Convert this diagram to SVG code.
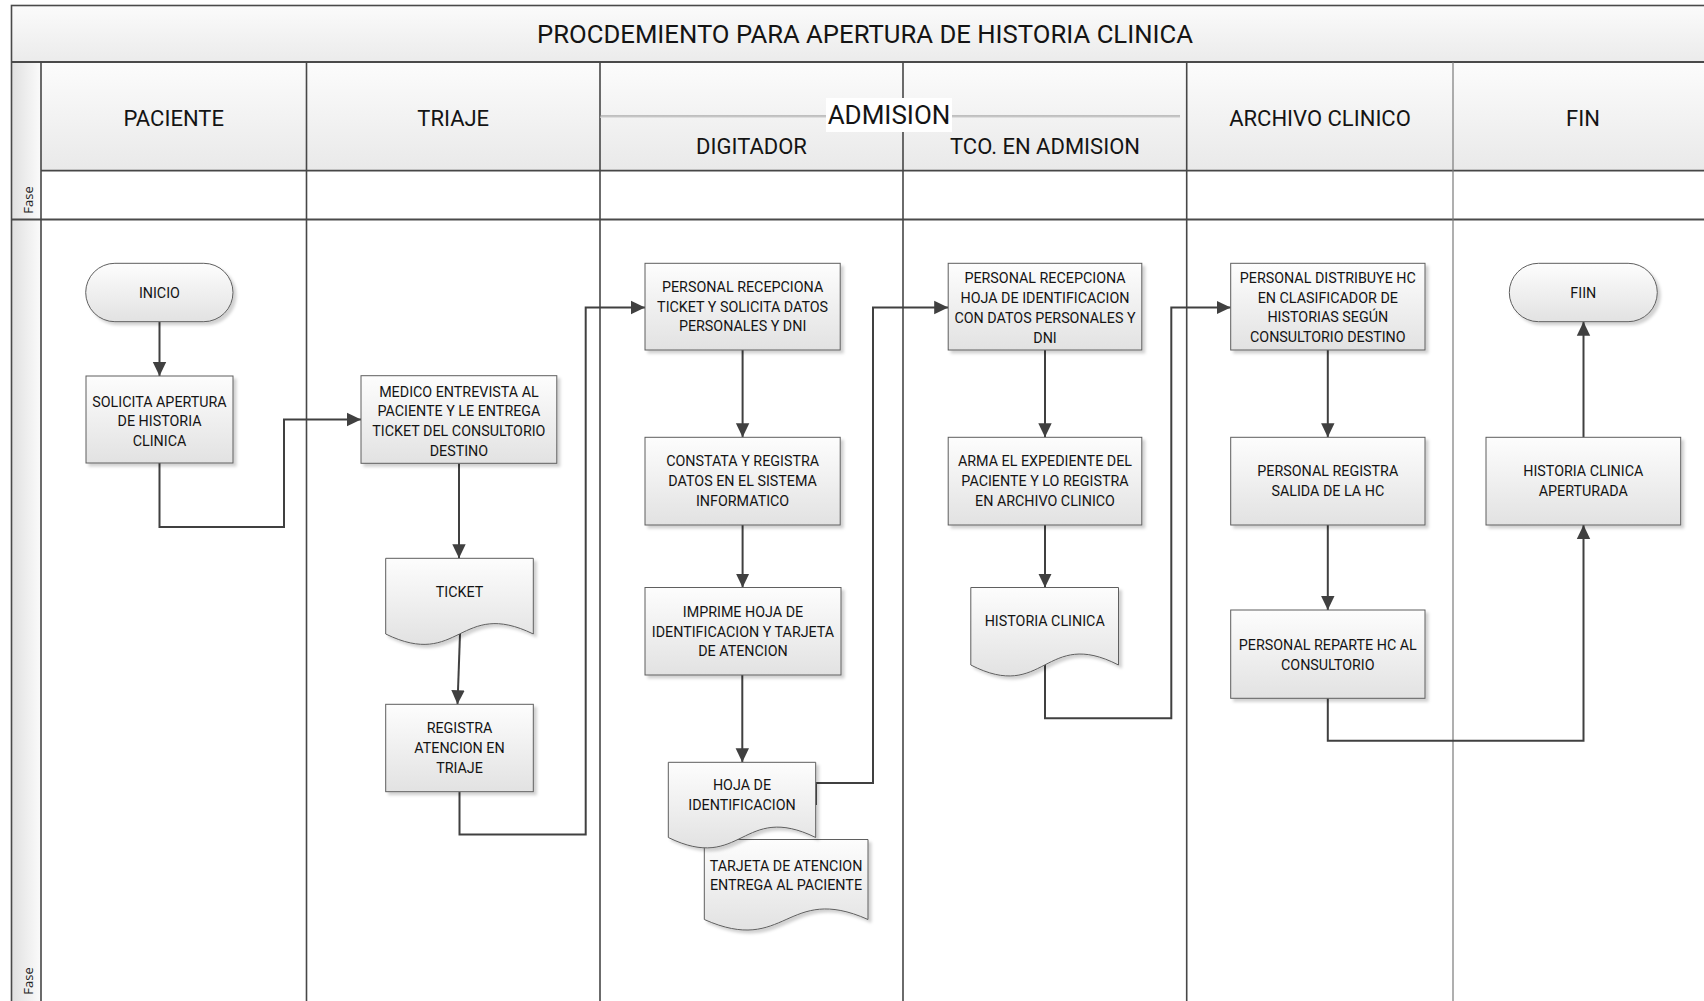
<svg xmlns="http://www.w3.org/2000/svg" width="1704" height="1001" viewBox="0 0 1704 1001">
  <defs>
    <linearGradient id="gBox" x1="0" y1="0" x2="0" y2="1">
      <stop offset="0" stop-color="#fdfdfd"/>
      <stop offset="1" stop-color="#e2e2e2"/>
    </linearGradient>
    <linearGradient id="gHead" x1="0" y1="0" x2="0" y2="1">
      <stop offset="0" stop-color="#fcfcfc"/>
      <stop offset="1" stop-color="#e9e9e9"/>
    </linearGradient>
    <linearGradient id="gTitle" x1="0" y1="0" x2="0" y2="1">
      <stop offset="0" stop-color="#fbfbfb"/>
      <stop offset="1" stop-color="#ebebeb"/>
    </linearGradient>
    <linearGradient id="gFase" x1="0" y1="0" x2="1" y2="0">
      <stop offset="0" stop-color="#e0e0e0"/>
      <stop offset="1" stop-color="#fbfbfb"/>
    </linearGradient>
    <filter id="sh" x="-10%" y="-10%" width="125%" height="130%">
      <feDropShadow dx="3" dy="3" stdDeviation="1.5" flood-color="#000" flood-opacity="0.18"/>
    </filter>
    <marker id="ah" markerUnits="userSpaceOnUse" markerWidth="15" markerHeight="15" viewBox="0 0 15 15" refX="14" refY="7.5" orient="auto">
      <path d="M0,0.8 L14,7.5 L0,14.2 z" fill="#404040"/>
    </marker>
  </defs>
  <style>
    .frame{fill:none;stroke:#4a4a4a;stroke-width:1.6}
    .thick{stroke:#4a4a4a;stroke-width:2.2}
    .lane{stroke:#474747;stroke-width:1.6}
    .lane-lt{stroke:#7a7a7a;stroke-width:1.2}
    .node rect,.node path{fill:url(#gBox);stroke:#5e5e5e;stroke-width:1;filter:url(#sh)}
    .lbl{font-family:Roboto,"Liberation Sans",sans-serif;font-size:14.3px;fill:#141414;text-anchor:middle}
    .head{font-family:Roboto,"Liberation Sans",sans-serif;font-size:22px;fill:#141414;text-anchor:middle}
    .fase{font-family:"Open Sans","DejaVu Sans",sans-serif;font-size:13px;fill:#222;text-anchor:middle}
    .conn path{fill:none;stroke:#404040;stroke-width:2}
    .conn .arr{marker-end:url(#ah)}
  </style>

  <!-- page background -->
  <rect x="0" y="0" width="1704" height="1001" fill="#ffffff"/>

  <!-- pool frame: title band, lane headers, phase column -->
  <g id="pool">
    <rect x="11.5" y="5.5" width="1710" height="56.5" fill="url(#gTitle)"/>
    <rect x="41" y="62" width="1680" height="108.6" fill="url(#gHead)"/>
    <rect x="11.5" y="62" width="29.5" height="157.5" fill="url(#gFase)"/>
    <rect x="11.5" y="219.5" width="29.5" height="800" fill="url(#gFase)"/>
    <rect x="11.5" y="5.5" width="1710" height="1010" class="frame"/>
    <line x1="11.5" y1="62" x2="1720" y2="62" class="thick"/>
    <line x1="41" y1="170.6" x2="1720" y2="170.6" class="lane"/>
    <line x1="11.5" y1="219.5" x2="1720" y2="219.5" class="thick"/>
    <line x1="41" y1="62" x2="41" y2="1010" class="lane"/>
    <line x1="306.5" y1="62" x2="306.5" y2="1010" class="lane"/>
    <line x1="600" y1="62" x2="600" y2="1010" class="lane"/>
    <line x1="903" y1="62" x2="903" y2="1010" class="lane"/>
    <line x1="1186.7" y1="62" x2="1186.7" y2="1010" class="lane"/>
    <line x1="1453" y1="62" x2="1453" y2="1010" class="lane-lt"/>
    <!-- ADMISION spans the two admission lanes -->
    <line x1="600" y1="116" x2="1180" y2="116" stroke="#8a8a8a" stroke-width="1"/>
    <line x1="600" y1="117.2" x2="1180" y2="117.2" stroke="#d6d6d6" stroke-width="1"/>
    <rect x="826" y="98" width="126" height="34" fill="#ffffff"/>

    <text x="865" y="43.3" class="head" style="font-size:25.7px">PROCDEMIENTO PARA APERTURA DE HISTORIA CLINICA</text>
    <text x="173.7" y="125.5" class="head">PACIENTE</text>
    <text x="453.2" y="125.5" class="head">TRIAJE</text>
    <text x="889" y="124" class="head" style="font-size:26px">ADMISION</text>
    <text x="751.5" y="154" class="head">DIGITADOR</text>
    <text x="1045" y="154" class="head">TCO. EN ADMISION</text>
    <text x="1320" y="125.5" class="head">ARCHIVO CLINICO</text>
    <text x="1583" y="125.5" class="head">FIN</text>
    <text class="fase" transform="translate(33,200) rotate(-90)">Fase</text>
    <text class="fase" transform="translate(33,981) rotate(-90)">Fase</text>
  </g>

  <!-- connectors -->
  <g id="connectors" class="conn">
    <path class="arr" d="M159.5,322 V376"/>
    <path class="arr" d="M159.5,463 V527 H284 V419.5 H361"/>
    <path class="arr" d="M459,463.5 V558.3"/>
    <path class="arr" d="M460,634 L457.5,704.3"/>
    <path class="arr" d="M459.5,791.7 V834.5 H585.7 V307.5 H645"/>
    <path class="arr" d="M742.6,350 V437.3"/>
    <path class="arr" d="M742.6,525 V587.5"/>
    <path class="arr" d="M742.3,675 V762.3"/>
    <path class="arr" d="M816,805 V783 H873 V307.5 H948.2"/>
    <path class="arr" d="M1045,350 V437.3"/>
    <path class="arr" d="M1045,525 V587.5"/>
    <path class="arr" d="M1045,664 V718.3 H1171.3 V307.5 H1230.7"/>
    <path class="arr" d="M1327.8,350 V437.3"/>
    <path class="arr" d="M1327.8,525 V610"/>
    <path class="arr" d="M1327.8,698.3 V740.7 H1583.5 V525"/>
    <path class="arr" d="M1583.5,437.3 V321.7"/>
  </g>

  <!-- PACIENTE -->
  <g id="inicio" class="node">
    <rect x="85.7" y="263.3" width="147.3" height="58.4" rx="29.2" ry="29.2"/>
    <text class="lbl" x="159.4" y="298.4">INICIO</text>
  </g>
  <g id="solicita" class="node">
    <rect x="86" y="376" width="147" height="87"/>
    <text class="lbl" x="159.5" y="406.8">SOLICITA APERTURA</text>
    <text class="lbl" x="159.5" y="426.4">DE HISTORIA</text>
    <text class="lbl" x="159.5" y="446">CLINICA</text>
  </g>

  <!-- TRIAJE -->
  <g id="medico" class="node">
    <rect x="361" y="375.7" width="195.8" height="87.6"/>
    <text class="lbl" x="458.9" y="396.8">MEDICO ENTREVISTA AL</text>
    <text class="lbl" x="458.9" y="416.4">PACIENTE Y LE ENTREGA</text>
    <text class="lbl" x="458.9" y="436">TICKET DEL CONSULTORIO</text>
    <text class="lbl" x="458.9" y="455.6">DESTINO</text>
  </g>
  <g id="ticket" class="node">
    <path d="M385.7,558.3 H533.3 V634 C459.5,598 459.5,670 385.7,634 Z"/>
    <text class="lbl" x="459.5" y="596.8">TICKET</text>
  </g>
  <g id="registra-atencion" class="node">
    <rect x="385.7" y="704.3" width="147.6" height="87.4"/>
    <text class="lbl" x="459.5" y="733.4">REGISTRA</text>
    <text class="lbl" x="459.5" y="753">ATENCION EN</text>
    <text class="lbl" x="459.5" y="772.6">TRIAJE</text>
  </g>

  <!-- ADMISION / DIGITADOR -->
  <g id="recepciona-ticket" class="node">
    <rect x="645" y="263.3" width="195.2" height="86.7"/>
    <text class="lbl" x="742.6" y="291.8">PERSONAL RECEPCIONA</text>
    <text class="lbl" x="742.6" y="311.6">TICKET Y SOLICITA DATOS</text>
    <text class="lbl" x="742.6" y="331.4">PERSONALES Y DNI</text>
  </g>
  <g id="constata" class="node">
    <rect x="645" y="437.3" width="195.2" height="87.7"/>
    <text class="lbl" x="742.6" y="466.1">CONSTATA Y REGISTRA</text>
    <text class="lbl" x="742.6" y="485.9">DATOS EN EL SISTEMA</text>
    <text class="lbl" x="742.6" y="505.7">INFORMATICO</text>
  </g>
  <g id="imprime" class="node">
    <rect x="645" y="587.5" width="196" height="87.5"/>
    <text class="lbl" x="743" y="616.8">IMPRIME HOJA DE</text>
    <text class="lbl" x="743" y="636.5">IDENTIFICACION Y TARJETA</text>
    <text class="lbl" x="743" y="656.2">DE ATENCION</text>
  </g>
  <g id="tarjeta" class="node">
    <path d="M704.3,839.5 H868 V919.5 C786.2,883 786.2,956 704.3,919.5 Z"/>
    <text class="lbl" x="786" y="870.6">TARJETA DE ATENCION</text>
    <text class="lbl" x="786" y="890.1">ENTREGA AL PACIENTE</text>
  </g>
  <g id="hoja" class="node">
    <path d="M668.3,762.3 H815.7 V837.5 C742,801.5 742,873.5 668.3,837.5 Z"/>
    <text class="lbl" x="742" y="790.1">HOJA DE</text>
    <text class="lbl" x="742" y="810.1">IDENTIFICACION</text>
  </g>

  <!-- ADMISION / TCO. EN ADMISION -->
  <g id="recepciona-hoja" class="node">
    <rect x="948.2" y="263.3" width="193.6" height="86.7"/>
    <text class="lbl" x="1045" y="283.4">PERSONAL RECEPCIONA</text>
    <text class="lbl" x="1045" y="303.1">HOJA DE IDENTIFICACION</text>
    <text class="lbl" x="1045" y="322.8">CON DATOS PERSONALES Y</text>
    <text class="lbl" x="1045" y="342.5">DNI</text>
  </g>
  <g id="arma-expediente" class="node">
    <rect x="948.2" y="437.3" width="193.6" height="87.7"/>
    <text class="lbl" x="1045" y="466.1">ARMA EL EXPEDIENTE DEL</text>
    <text class="lbl" x="1045" y="485.9">PACIENTE Y LO REGISTRA</text>
    <text class="lbl" x="1045" y="505.7">EN ARCHIVO CLINICO</text>
  </g>
  <g id="historia-clinica" class="node">
    <path d="M970.8,587.5 H1118.5 V665 C1044.7,627 1044.7,703 970.8,665 Z"/>
    <text class="lbl" x="1044.7" y="625.8">HISTORIA CLINICA</text>
  </g>

  <!-- ARCHIVO CLINICO -->
  <g id="distribuye" class="node">
    <rect x="1230.7" y="263.3" width="194.3" height="86.7"/>
    <text class="lbl" x="1327.8" y="283.1">PERSONAL DISTRIBUYE HC</text>
    <text class="lbl" x="1327.8" y="302.7">EN CLASIFICADOR DE</text>
    <text class="lbl" x="1327.8" y="322.3">HISTORIAS SEGÚN</text>
    <text class="lbl" x="1327.8" y="341.9">CONSULTORIO DESTINO</text>
  </g>
  <g id="registra-salida" class="node">
    <rect x="1230.7" y="437.3" width="194.3" height="87.7"/>
    <text class="lbl" x="1327.8" y="476.1">PERSONAL REGISTRA</text>
    <text class="lbl" x="1327.8" y="495.8">SALIDA DE LA HC</text>
  </g>
  <g id="reparte" class="node">
    <rect x="1230.7" y="610" width="194.3" height="88.3"/>
    <text class="lbl" x="1327.8" y="650.3">PERSONAL REPARTE HC AL</text>
    <text class="lbl" x="1327.8" y="670">CONSULTORIO</text>
  </g>

  <!-- FIN -->
  <g id="fiin" class="node">
    <rect x="1509.3" y="263.3" width="148" height="58.4" rx="29.2" ry="29.2"/>
    <text class="lbl" x="1583.3" y="297.8">FIIN</text>
  </g>
  <g id="aperturada" class="node">
    <rect x="1486" y="437.3" width="194.7" height="87.7"/>
    <text class="lbl" x="1583.3" y="475.8">HISTORIA CLINICA</text>
    <text class="lbl" x="1583.3" y="495.8">APERTURADA</text>
  </g>
</svg>
